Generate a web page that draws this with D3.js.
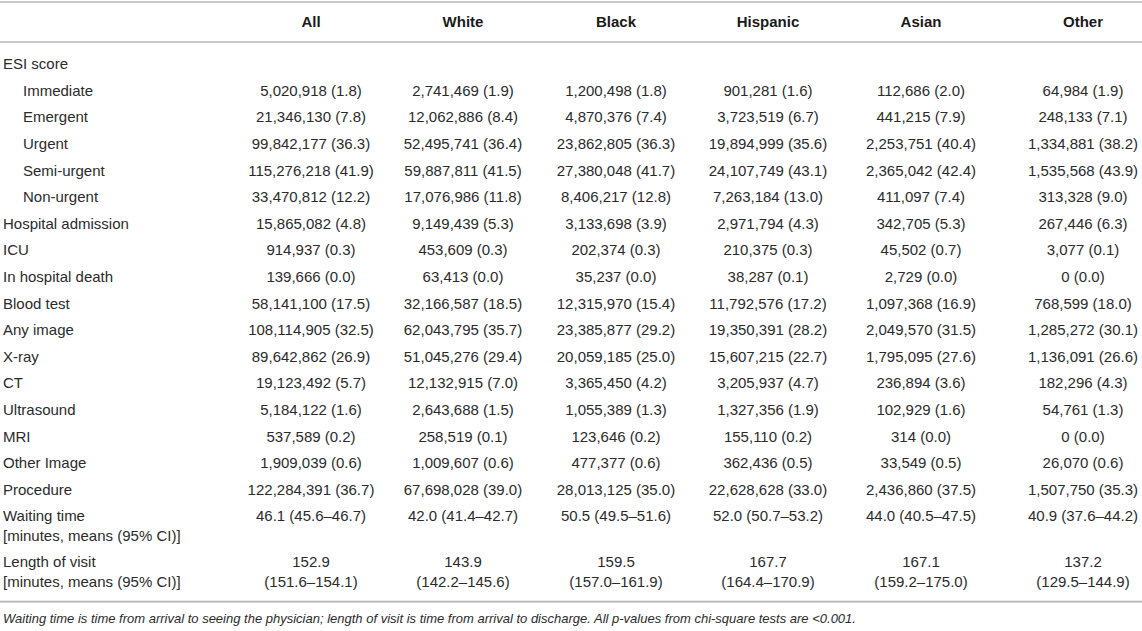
<!DOCTYPE html>
<html>
<head>
<meta charset="utf-8">
<script src="https://cdn.jsdelivr.net/npm/d3@7"></script>
<style>
  html, body { margin: 0; padding: 0; background: #fff; }
  svg { display: block; font-family: "Liberation Sans", Arial, Helvetica, sans-serif; }
  .hdr { font-weight: bold; font-size: 15px; fill: #1a1a1a; }
  .cell { font-size: 15px; fill: #2b2b2b; }
  .rule { stroke: #b4b4b4; stroke-width: 1.6; }
  .note { font-size: 13px; font-style: italic; fill: #2b2b2b; }
</style>
</head>
<body>
<svg id="table"></svg>
<script>
// Column groups
const groups = ['All', 'White', 'Black', 'Hispanic', 'Asian', 'Other'];

// Count rows (n and %)
const rowLabels = ['Immediate', 'Emergent', 'Urgent', 'Semi-urgent', 'Non-urgent',
  'Hospital admission', 'ICU', 'In hospital death', 'Blood test', 'Any image',
  'X-ray', 'CT', 'Ultrasound', 'MRI', 'Other Image', 'Procedure'];
const indented = ['Immediate', 'Emergent', 'Urgent', 'Semi-urgent', 'Non-urgent'];

const allN = [5020918, 21346130, 99842177, 115276218, 33470812, 15865082, 914937, 139666,
  58141100, 108114905, 89642862, 19123492, 5184122, 537589, 1909039, 122284391];
const allPct = [1.8, 7.8, 36.3, 41.9, 12.2, 4.8, 0.3, 0.0, 17.5, 32.5, 26.9, 5.7, 1.6, 0.2, 0.6, 36.7];

const whiteN = [2741469, 12062886, 52495741, 59887811, 17076986, 9149439, 453609, 63413,
  32166587, 62043795, 51045276, 12132915, 2643688, 258519, 1009607, 67698028];
const whitePct = [1.9, 8.4, 36.4, 41.5, 11.8, 5.3, 0.3, 0.0, 18.5, 35.7, 29.4, 7.0, 1.5, 0.1, 0.6, 39.0];

const blackN = [1200498, 4870376, 23862805, 27380048, 8406217, 3133698, 202374, 35237,
  12315970, 23385877, 20059185, 3365450, 1055389, 123646, 477377, 28013125];
const blackPct = [1.8, 7.4, 36.3, 41.7, 12.8, 3.9, 0.3, 0.0, 15.4, 29.2, 25.0, 4.2, 1.3, 0.2, 0.6, 35.0];

const hispanicN = [901281, 3723519, 19894999, 24107749, 7263184, 2971794, 210375, 38287,
  11792576, 19350391, 15607215, 3205937, 1327356, 155110, 362436, 22628628];
const hispanicPct = [1.6, 6.7, 35.6, 43.1, 13.0, 4.3, 0.3, 0.1, 17.2, 28.2, 22.7, 4.7, 1.9, 0.2, 0.5, 33.0];

const asianN = [112686, 441215, 2253751, 2365042, 411097, 342705, 45502, 2729,
  1097368, 2049570, 1795095, 236894, 102929, 314, 33549, 2436860];
const asianPct = [2.0, 7.9, 40.4, 42.4, 7.4, 5.3, 0.7, 0.0, 16.9, 31.5, 27.6, 3.6, 1.6, 0.0, 0.5, 37.5];

const otherN = [64984, 248133, 1334881, 1535568, 313328, 267446, 3077, 0,
  768599, 1285272, 1136091, 182296, 54761, 0, 26070, 1507750];
const otherPct = [1.9, 7.1, 38.2, 43.9, 9.0, 6.3, 0.1, 0.0, 18.0, 30.1, 26.6, 4.3, 1.3, 0.0, 0.6, 35.3];

// Means with 95% CI per group
const waitMean = [46.1, 42.0, 50.5, 52.0, 44.0, 40.9];
const waitLo = [45.6, 41.4, 49.5, 50.7, 40.5, 37.6];
const waitHi = [46.7, 42.7, 51.6, 53.2, 47.5, 44.2];
const visitMean = [152.9, 143.9, 159.5, 167.7, 167.1, 137.2];
const visitLo = [151.6, 142.2, 157.0, 164.4, 159.2, 129.5];
const visitHi = [154.1, 145.6, 161.9, 170.9, 175.0, 144.9];

const footnote = 'Waiting time is time from arrival to seeing the physician; length of visit is time from arrival to discharge. All p-values from chi-square tests are <0.001.';

// Layout
const W = 1142, H = 631;
const colCenters = [311, 463, 616, 768, 921, 1083];
const rowTop = 64, rowH = 26.6, lineH = 20, multiGap = 26;

const counts = [allN, whiteN, blackN, hispanicN, asianN, otherN];
const pcts = [allPct, whitePct, blackPct, hispanicPct, asianPct, otherPct];

const svg = d3.select('#table').attr('width', W).attr('height', H);
const x = d3.scaleOrdinal().domain(groups).range(colCenters);
const y = d3.scaleLinear().domain([0, 1]).range([rowTop, rowTop + rowH]);
const fmtN = d3.format(',');
const fmt1 = d3.format('.1f');

// Rules
const yProc = y(rowLabels.length);
const yWait = yProc + multiGap;
const yVisit = yWait + lineH + multiGap;
const yBottom = yVisit + lineH + 20;
[2, 42, yBottom].forEach(ry => {
  svg.append('line').attr('class', 'rule').attr('x1', 0).attr('x2', W).attr('y1', ry).attr('y2', ry);
});

// Header
svg.selectAll('.hdr').data(groups).enter().append('text')
  .attr('class', 'hdr')
  .attr('x', d => x(d)).attr('y', 22).attr('dy', '0.35em')
  .attr('text-anchor', 'middle')
  .text(d => d);

// Label column
const labels = [{ t: 'ESI score', y: y(0), ind: false }]
  .concat(rowLabels.map((r, i) => ({ t: r, y: y(i + 1), ind: indented.includes(r) })))
  .concat([
    { t: 'Waiting time', y: yWait, ind: false },
    { t: '[minutes, means (95% CI)]', y: yWait + lineH, ind: false },
    { t: 'Length of visit', y: yVisit, ind: false },
    { t: '[minutes, means (95% CI)]', y: yVisit + lineH, ind: false }
  ]);
svg.selectAll('.lbl').data(labels).enter().append('text')
  .attr('class', 'cell lbl')
  .attr('x', d => d.ind ? 23 : 3).attr('y', d => d.y).attr('dy', '0.35em')
  .text(d => d.t);

// Data cells
const cells = [];
groups.forEach((g, gi) => {
  rowLabels.forEach((r, ri) => {
    cells.push({ g, y: y(ri + 1), t: `${fmtN(counts[gi][ri])} (${fmt1(pcts[gi][ri])})` });
  });
  cells.push({ g, y: yWait, t: `${fmt1(waitMean[gi])} (${fmt1(waitLo[gi])}–${fmt1(waitHi[gi])})` });
  cells.push({ g, y: yVisit, t: fmt1(visitMean[gi]) });
  cells.push({ g, y: yVisit + lineH, t: `(${fmt1(visitLo[gi])}–${fmt1(visitHi[gi])})` });
});
svg.selectAll('.val').data(cells).enter().append('text')
  .attr('class', 'cell val')
  .attr('x', d => x(d.g)).attr('y', d => d.y).attr('dy', '0.35em')
  .attr('text-anchor', 'middle')
  .text(d => d.t);

// Footnote
svg.append('text').attr('class', 'note')
  .attr('x', 3).attr('y', yBottom + 17).attr('dy', '0.35em')
  .text(footnote);
</script>
</body>
</html>
